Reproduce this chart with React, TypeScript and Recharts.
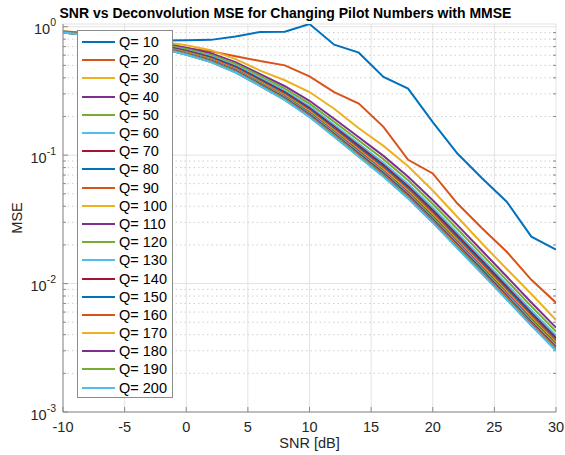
import React from 'react';
import { LineChart, Line, XAxis, YAxis, CartesianGrid, ReferenceLine, Legend } from 'recharts';

const snr = [-10, -8, -6, -4, -2, 0, 2, 4, 6, 8, 10, 12, 14, 16, 18, 20, 22, 24, 26, 28, 30];

const q10 = [0.91, 0.87, 0.83, 0.8, 0.78, 0.785, 0.79, 0.84, 0.91, 0.915, 1.05, 0.725, 0.628, 0.406, 0.33, 0.181, 0.103, 0.066, 0.0434, 0.0232, 0.0184];
const q20 = [0.915, 0.89, 0.86, 0.82, 0.75, 0.68, 0.643, 0.59, 0.54, 0.5, 0.41, 0.31, 0.252, 0.166, 0.092, 0.072, 0.042, 0.027, 0.0177, 0.0107, 0.0071];
const q30 = [0.92, 0.895, 0.856, 0.82, 0.765, 0.716, 0.657, 0.56, 0.455, 0.383, 0.31, 0.23, 0.162, 0.118, 0.082, 0.053, 0.033, 0.0205, 0.013, 0.0083, 0.0052];
const q40 = [0.919, 0.889, 0.841, 0.799, 0.739, 0.685, 0.621, 0.53, 0.428, 0.344, 0.265, 0.192, 0.138, 0.0987, 0.0679, 0.0446, 0.0285, 0.018, 0.01136, 0.00712, 0.00454];
const q50 = [0.916, 0.884, 0.834, 0.79, 0.728, 0.671, 0.604, 0.514, 0.413, 0.33, 0.252, 0.182, 0.13, 0.0928, 0.0637, 0.0417, 0.0266, 0.0168, 0.0106, 0.00664, 0.00424];
const q60 = [0.913, 0.879, 0.827, 0.781, 0.718, 0.657, 0.589, 0.498, 0.398, 0.316, 0.24, 0.172, 0.1227, 0.0872, 0.0597, 0.0389, 0.0248, 0.0157, 0.00989, 0.00619, 0.00395];
const q70 = [0.91, 0.876, 0.822, 0.775, 0.71, 0.649, 0.578, 0.488, 0.389, 0.308, 0.233, 0.166, 0.118, 0.0836, 0.0571, 0.0373, 0.0237, 0.015, 0.00944, 0.00592, 0.00378];
const q80 = [0.909, 0.874, 0.819, 0.77, 0.705, 0.641, 0.571, 0.48, 0.382, 0.302, 0.227, 0.162, 0.1146, 0.0811, 0.0553, 0.036, 0.0229, 0.01447, 0.00912, 0.00572, 0.00365];
const q90 = [0.907, 0.872, 0.816, 0.766, 0.7, 0.636, 0.564, 0.474, 0.376, 0.296, 0.222, 0.158, 0.1116, 0.0789, 0.0538, 0.035, 0.0222, 0.01404, 0.00885, 0.00555, 0.00354];
const q100 = [0.906, 0.869, 0.813, 0.763, 0.696, 0.63, 0.559, 0.468, 0.371, 0.291, 0.218, 0.155, 0.1091, 0.077, 0.0524, 0.0341, 0.0216, 0.01366, 0.00861, 0.0054, 0.00344];
const q110 = [0.905, 0.868, 0.811, 0.76, 0.692, 0.626, 0.554, 0.463, 0.366, 0.287, 0.215, 0.152, 0.107, 0.0754, 0.0512, 0.0333, 0.0211, 0.01335, 0.00842, 0.00527, 0.00337];
const q120 = [0.904, 0.867, 0.809, 0.757, 0.69, 0.623, 0.55, 0.46, 0.363, 0.284, 0.212, 0.15, 0.1053, 0.0742, 0.0504, 0.0327, 0.0207, 0.01311, 0.00827, 0.00518, 0.00331];
const q130 = [0.904, 0.866, 0.808, 0.755, 0.687, 0.62, 0.546, 0.456, 0.36, 0.281, 0.2095, 0.148, 0.1039, 0.0731, 0.0496, 0.0322, 0.0204, 0.0129, 0.00813, 0.00509, 0.00325];
const q140 = [0.903, 0.864, 0.806, 0.753, 0.685, 0.617, 0.543, 0.453, 0.357, 0.2786, 0.207, 0.1462, 0.1025, 0.0721, 0.0489, 0.0317, 0.0201, 0.01269, 0.008, 0.00501, 0.0032];
const q150 = [0.902, 0.864, 0.805, 0.751, 0.683, 0.614, 0.54, 0.45, 0.354, 0.2763, 0.2051, 0.1446, 0.1013, 0.0712, 0.0482, 0.0313, 0.01978, 0.01252, 0.00789, 0.00494, 0.00316];
const q160 = [0.902, 0.863, 0.804, 0.75, 0.681, 0.612, 0.538, 0.448, 0.352, 0.2744, 0.2035, 0.1433, 0.1003, 0.0704, 0.0477, 0.03095, 0.01955, 0.01238, 0.0078, 0.00489, 0.00312];
const q170 = [0.901, 0.862, 0.803, 0.748, 0.679, 0.61, 0.536, 0.4455, 0.35, 0.2725, 0.2019, 0.142, 0.0993, 0.0697, 0.0472, 0.0306, 0.01933, 0.01223, 0.00771, 0.00483, 0.00308];
const q180 = [0.901, 0.861, 0.802, 0.747, 0.678, 0.608, 0.534, 0.4437, 0.3483, 0.271, 0.2006, 0.141, 0.0985, 0.0691, 0.0468, 0.03034, 0.01915, 0.01212, 0.00764, 0.00479, 0.00306];
const q190 = [0.9, 0.861, 0.801, 0.746, 0.676, 0.607, 0.532, 0.4418, 0.3467, 0.2695, 0.1993, 0.14, 0.0978, 0.0686, 0.0464, 0.03007, 0.01897, 0.01201, 0.00757, 0.00474, 0.00303];
const q200 = [0.9, 0.86, 0.8, 0.745, 0.675, 0.605, 0.53, 0.44, 0.345, 0.268, 0.198, 0.139, 0.097, 0.068, 0.046, 0.0298, 0.0188, 0.0119, 0.0075, 0.0047, 0.003];

const pilots = [10, 20, 30, 40, 50, 60, 70, 80, 90, 100, 110, 120, 130, 140, 150, 160, 170, 180, 190, 200];
const series = [q10, q20, q30, q40, q50, q60, q70, q80, q90, q100, q110, q120, q130, q140, q150, q160, q170, q180, q190, q200];

// matlab default color order
const colors = ['#0072BD', '#D95319', '#EDB120', '#7E2F8E', '#77AC30', '#4DBEEE', '#A2142F'];

const xTicks = [-10, -5, 0, 5, 10, 15, 20, 25, 30];
const yTicks = [0.001, 0.01, 0.1, 1];
const minorY = [
  0.002, 0.003, 0.004, 0.005, 0.006, 0.007, 0.008, 0.009,
  0.02, 0.03, 0.04, 0.05, 0.06, 0.07, 0.08, 0.09,
  0.2, 0.3, 0.4, 0.5, 0.6, 0.7, 0.8, 0.9,
];

const rows = snr.map((x, i) => {
  const r: Record<string, number> = { snr: x };
  pilots.forEach((q, k) => {
    r['q' + q] = series[k][i];
  });
  return r;
});

const FONT = '"Liberation Sans", Arial, Helvetica, sans-serif';
const TEXT = '#262626';
const AXIS = '#8a8a8a';

const XTick = ({ x, y, payload }: any) => (
  <text x={x} y={y} dy={15} textAnchor="middle" fontSize={14.5} fill={TEXT} fontFamily={FONT}>
    {payload.value}
  </text>
);

const YTick = ({ x, y, payload }: any) => {
  const exp = Math.round(Math.log10(payload.value));
  return (
    <text x={x} y={y + 7.7} textAnchor="end" fontSize={14.5} fill={TEXT} fontFamily={FONT}>
      <tspan>10</tspan>
      <tspan dy={-8} fontSize={10.5}>{exp}</tspan>
    </text>
  );
};

const PilotLegend = () => (
  <div
    style={{
      width: 96,
      height: 368,
      boxSizing: 'border-box',
      border: '1px solid #8c8c8c',
      background: '#fff',
      paddingTop: 2,
      fontFamily: FONT,
      fontSize: 14.5,
      color: '#000',
    }}
  >
    {pilots.map((q, k) => (
      <div key={q} style={{ height: 18.2, display: 'flex', alignItems: 'center' }}>
        <svg width={34} height={4} style={{ marginLeft: 4, marginRight: 3 }}>
          <line x1={0} y1={2} x2={33} y2={2} stroke={colors[k % colors.length]} strokeWidth={2} />
        </svg>
        <span style={{ whiteSpace: 'pre' }}>{'Q= ' + q}</span>
      </div>
    ))}
  </div>
);

export default function App() {
  return (
    <div style={{ position: 'absolute', left: 0, top: 0, width: 565, height: 455, background: '#fff' }}>
      <LineChart width={565} height={455} data={rows} margin={{ top: 24, right: 9, bottom: 13, left: 13 }}>
        <CartesianGrid stroke="#e3e3e3" strokeWidth={1} />
        {minorY.map((v) => (
          <ReferenceLine key={v} y={v} stroke="#cfcfcf" strokeDasharray="1.5 3" strokeWidth={1} />
        ))}
        {minorY.map((v) => (
          <ReferenceLine
            key={'l' + v}
            segment={[{ x: -10, y: v }, { x: -9.76, y: v }]}
            stroke={AXIS}
            strokeWidth={1}
          />
        ))}
        {minorY.map((v) => (
          <ReferenceLine
            key={'r' + v}
            segment={[{ x: 29.76, y: v }, { x: 30, y: v }]}
            stroke={AXIS}
            strokeWidth={1}
          />
        ))}
        <XAxis
          dataKey="snr"
          type="number"
          domain={[-10, 30]}
          ticks={xTicks}
          height={30}
          tickSize={-5}
          tickMargin={10}
          tick={<XTick />}
          stroke={AXIS}
          tickLine={{ stroke: AXIS }}
          allowDataOverflow
        />
        <XAxis
          xAxisId="top"
          orientation="top"
          dataKey="snr"
          type="number"
          domain={[-10, 30]}
          ticks={xTicks}
          height={0}
          tickSize={-5}
          tick={false}
          stroke={AXIS}
          allowDataOverflow
        />
        <YAxis
          scale="log"
          type="number"
          domain={[0.001, 1.05]}
          ticks={yTicks}
          width={50}
          tickSize={-5}
          tickMargin={12}
          tick={<YTick />}
          stroke={AXIS}
          allowDataOverflow
        />
        <YAxis
          yAxisId="right"
          orientation="right"
          scale="log"
          type="number"
          domain={[0.001, 1.05]}
          ticks={yTicks}
          width={0}
          tickSize={-5}
          tick={false}
          stroke={AXIS}
          allowDataOverflow
        />
        {pilots.map((q, k) => (
          <Line
            key={q}
            dataKey={'q' + q}
            name={'Q= ' + q}
            stroke={colors[k % colors.length]}
            strokeWidth={2}
            dot={false}
            isAnimationActive={false}
          />
        ))}
        <Legend
          layout="horizontal"
          verticalAlign="middle"
          align="center"
          content={<PilotLegend />}
          wrapperStyle={{ left: 77, top: 30, width: 96, height: 368 }}
        />
      </LineChart>
      <svg width={565} height={455} style={{ position: 'absolute', left: 0, top: 0, pointerEvents: 'none' }}>
        <text x={285.5} y={17.5} textAnchor="middle" fontSize={14} fontWeight="bold" fill="#000" fontFamily={FONT}>
          SNR vs Deconvolution MSE for Changing Pilot Numbers with MMSE
        </text>
        <text x={309.5} y={448} textAnchor="middle" fontSize={14.5} fill={TEXT} fontFamily={FONT}>
          SNR [dB]
        </text>
        <text
          x={0}
          y={0}
          transform="translate(22 218) rotate(-90)"
          textAnchor="middle"
          fontSize={14.5}
          fill={TEXT}
          fontFamily={FONT}
        >
          MSE
        </text>
      </svg>
    </div>
  );
}
